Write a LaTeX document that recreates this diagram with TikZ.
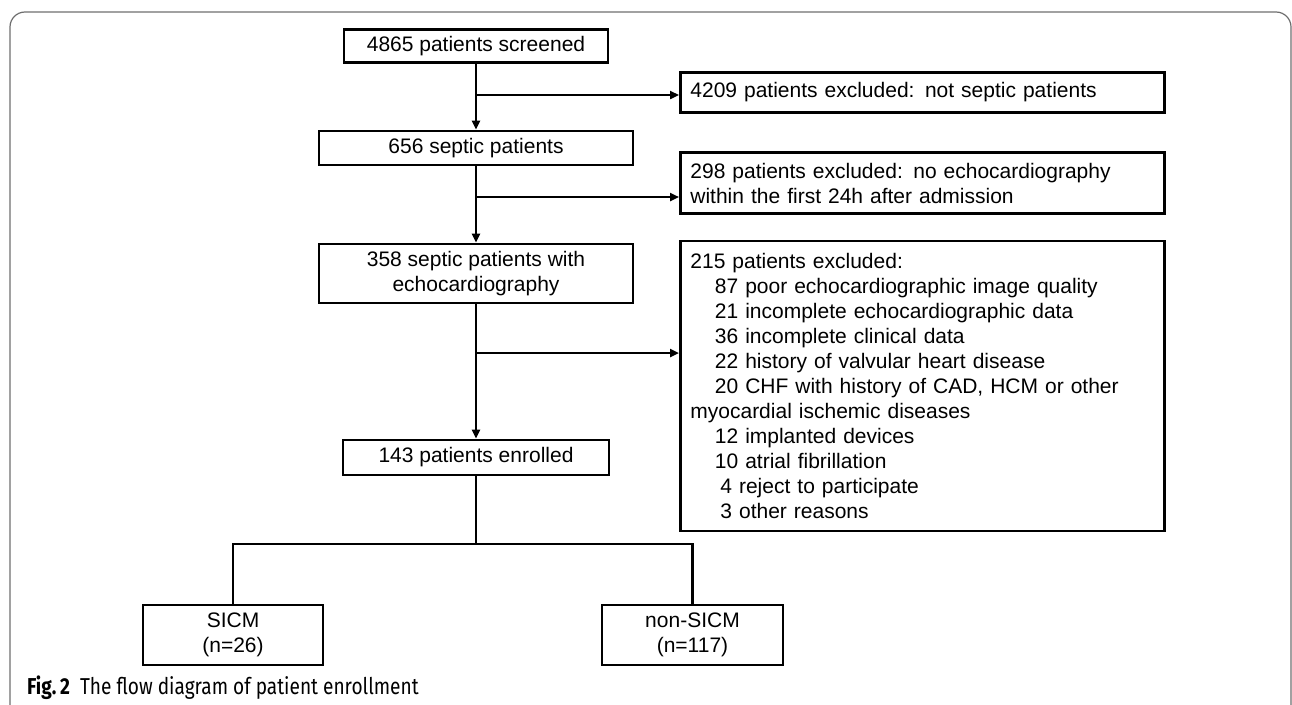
\documentclass[tikz,border=0pt]{standalone}
\usepackage{fontspec}
\setmainfont{Liberation Sans}
\newfontfamily\capfont[FakeStretch=0.83]{Fira Sans}
\usepackage{tikz}
\usetikzlibrary{positioning,arrows.meta}
\definecolor{framegray}{RGB}{110,110,110}

\begin{document}
\begin{tikzpicture}[x=1pt, y=1pt,
    box/.style={draw, line width=2.8pt, font=\fontsize{21}{25}\selectfont, align=center, inner sep=0pt},
    exbox/.style={box, anchor=west, align=left, text width=464pt, inner sep=10pt},
    arr/.style={line width=2.8pt, -{Triangle[length=9pt,width=8pt]}},
    ln/.style={line width=2.8pt}]
    \useasboundingbox (0,0) rectangle (1292,-704);
    \draw[framegray, line width=1.2pt, rounded corners=15pt] (10,-730) -- (10,-12) -- (1291,-12) -- (1291,-730);
    % main column
    \node[box, minimum width=264pt, minimum height=33pt] (scr) at (476,-46) {4865 patients screened};
    \node[box, minimum width=314pt, minimum height=34pt] (sep) at (476,-148) {656 septic patients};
    \node[box, minimum width=314pt, minimum height=59pt] (echo) at (476,-273.5) {358 septic patients with\\echocardiography};
    \node[box, minimum width=266pt, minimum height=35pt] (enr) at (476,-457.5) {143 patients enrolled};
    \node[box, minimum width=180pt, minimum height=60pt] (sicm) at (233,-635) {SICM\\(n=26)};
    \node[box, minimum width=181pt, minimum height=60pt] (nsicm) at (692.5,-635) {non-SICM\\(n=117)};
    % exclusions
    \node[exbox, minimum height=35pt] (ex1) at (679,-92.5) {4209 patients excluded: not septic patients};
    \node[exbox, minimum height=60pt] (ex2) at (679,-183) {298 patients excluded: no echocardiography\\within the first 24h after admission};
    \node[exbox, minimum height=290pt] (ex3) at (679,-386) {215 patients excluded:\\
        \hspace*{24.5pt}87 poor echocardiographic image quality\\
        \hspace*{24.5pt}21 incomplete echocardiographic data\\
        \hspace*{24.5pt}36 incomplete clinical data\\
        \hspace*{24.5pt}22 history of valvular heart disease\\
        \hspace*{24.5pt}20 CHF with history of CAD, HCM or other\\
        myocardial ischemic diseases\\
        \hspace*{24.5pt}12 implanted devices\\
        \hspace*{24.5pt}10 atrial fibrillation\\
        \hspace*{30pt}4 reject to participate\\
        \hspace*{30pt}3 other reasons};
    \coordinate (b1) at (476,-95);
    \coordinate (b2) at (476,-197);
    \coordinate (b3) at (476,-353);
    \coordinate (split) at (476,-544);
    \draw[arr] (scr) -- (sep);
    \draw[arr] (sep) -- (echo);
    \draw[arr] (echo) -- (enr);
    \draw[arr] (b1) -- (b1 -| ex1.west);
    \draw[arr] (b2) -- (b2 -| ex2.west);
    \draw[arr] (b3) -- (b3 -| ex3.west);
    \draw[ln] (enr) -- (split);
    \draw[ln] (sicm) |- (split) -| (nsicm);
    % caption
    \node[anchor=base west, inner sep=0pt, font=\capfont\fontsize{23}{26}\selectfont] (cap) at (27,-694) {\bfseries Fig.\,2\hspace{10pt}\mdseries The flow diagram of patient enrollment};
\end{tikzpicture}
\end{document}
